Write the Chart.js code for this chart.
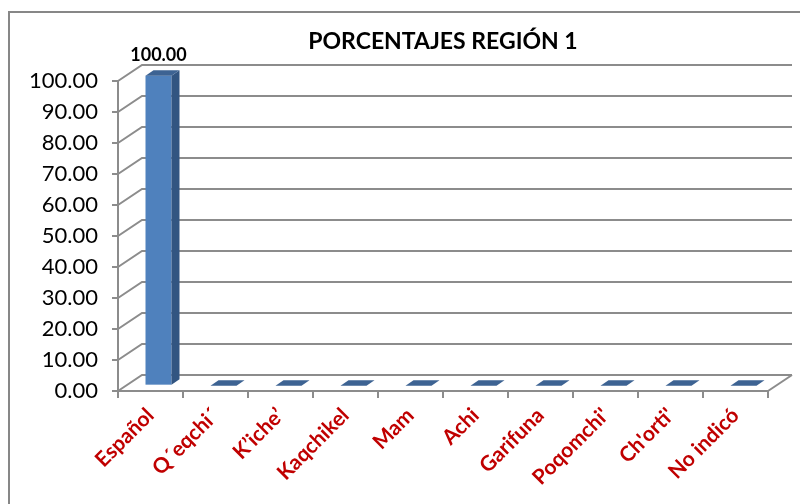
<!DOCTYPE html>
<html>
<head>
<meta charset="utf-8">
<script src="https://cdn.jsdelivr.net/npm/chart.js@4"></script>
<style>
  body { margin: 0; background: #fff; }
  canvas { display: block; }
</style>
</head>
<body>
<canvas id="graficoRegion" width="800" height="504"></canvas>
<script>
const categorias = ['Español', 'Q´eqchi´', 'K’iche’', 'Kaqchikel', 'Mam', 'Achi', 'Garifuna', 'Poqomchi\'', 'Ch\'orti\'', 'No indicó'];
const porcentajes = [100, 0, 0, 0, 0, 0, 0, 0, 0, 0];
const ejeMin = 0;
const ejeMax = 100;
const ejePaso = 10;
const titulo = 'PORCENTAJES REGIÓN 1';

const DX = 24, DY = -16;   // profundidad de la pared del fondo
const gris = '#8c8c8c';

const efecto3d = {
  id: 'efecto3d',
  beforeDraw(chart) {
    const ctx = chart.ctx;
    ctx.save();
    ctx.strokeStyle = '#878787';
    ctx.lineWidth = 2;
    ctx.strokeRect(9, 12, 820, 600);
    ctx.fillStyle = '#000';
    ctx.font = 'bold 23px Lato';
    ctx.textAlign = 'center';
    ctx.textBaseline = 'alphabetic';
    ctx.fillText(titulo, 443, 49);
    ctx.restore();
  },
  beforeDatasetsDraw(chart) {
    const { ctx, chartArea: a, scales: { y } } = chart;
    ctx.save();
    ctx.strokeStyle = gris;
    ctx.lineWidth = 2;
    y.ticks.forEach(t => {
      const py = y.getPixelForValue(t.value);
      ctx.beginPath();
      ctx.moveTo(a.left, py);
      ctx.lineTo(a.left + DX, py + DY);
      ctx.lineTo(a.right + DX, py + DY);
      ctx.stroke();
    });
    ctx.beginPath();
    ctx.moveTo(a.right, a.bottom);
    ctx.lineTo(a.right + DX, a.bottom + DY);
    ctx.stroke();
    ctx.restore();
  },
  afterDatasetsDraw(chart) {
    const ctx = chart.ctx;
    const meta = chart.getDatasetMeta(0);
    const dx = DX / 3, dy = DY / 3;
    ctx.save();
    meta.data.forEach((bar, i) => {
      const w = bar.width;
      const x0 = bar.x - w / 2 + dx, x1 = x0 + w;
      const yTop = bar.y + dy, yBot = bar.base + dy;
      if (yBot - yTop > 0.5) {
        ctx.fillStyle = '#4f81bd';
        ctx.fillRect(x0, yTop, w, yBot - yTop);
        ctx.fillStyle = '#325581';
        ctx.beginPath();
        ctx.moveTo(x1, yTop);
        ctx.lineTo(x1 + dx, yTop + dy);
        ctx.lineTo(x1 + dx, yBot + dy);
        ctx.lineTo(x1, yBot);
        ctx.closePath();
        ctx.fill();
      }
      ctx.fillStyle = '#3d6393';
      ctx.beginPath();
      ctx.moveTo(x0, yTop);
      ctx.lineTo(x0 + dx, yTop + dy);
      ctx.lineTo(x1 + dx, yTop + dy);
      ctx.lineTo(x1, yTop);
      ctx.closePath();
      ctx.fill();
      const v = porcentajes[i];
      if (v > 0) {
        ctx.fillStyle = '#000';
        ctx.font = 'bold 18px Lato';
        ctx.textAlign = 'center';
        ctx.textBaseline = 'alphabetic';
        ctx.fillText(v.toFixed(2), bar.x + dx, yTop + dy - 9);
      }
    });
    ctx.restore();
  }
};

new Chart(document.getElementById('graficoRegion'), {
  type: 'bar',
  data: {
    labels: categorias,
    datasets: [{
      label: titulo,
      data: porcentajes,
      backgroundColor: 'rgba(0,0,0,0)',
      borderWidth: 0,
      categoryPercentage: 0.8,
      barPercentage: 0.5
    }]
  },
  options: {
    responsive: false,
    animation: false,
    layout: { padding: { top: 81, right: 32, left: 0, bottom: 0 } },
    plugins: {
      legend: { display: false },
      tooltip: { enabled: false },
      title: { display: false }
    },
    scales: {
      y: {
        min: ejeMin,
        max: ejeMax,
        afterFit: s => { s.width = 118; },
        ticks: {
          stepSize: ejePaso,
          padding: 14,
          color: '#000',
          font: { family: 'Lato', size: 22 },
          callback: v => Number(v).toFixed(2)
        },
        grid: { drawOnChartArea: false, drawTicks: true, tickLength: 6, color: gris, lineWidth: 2 },
        border: { display: true, color: gris, width: 2 }
      },
      x: {
        afterFit: s => { s.height = 113; },
        ticks: {
          minRotation: 45,
          maxRotation: 45,
          padding: 5,
          color: '#c00000',
          font: { family: 'Lato', size: 21, weight: 'bold' }
        },
        grid: { offset: true, drawOnChartArea: false, drawTicks: true, tickLength: 7, color: gris, lineWidth: 2 },
        border: { display: true, color: gris, width: 2 }
      }
    }
  },
  plugins: [efecto3d]
});
</script>
</body>
</html>
